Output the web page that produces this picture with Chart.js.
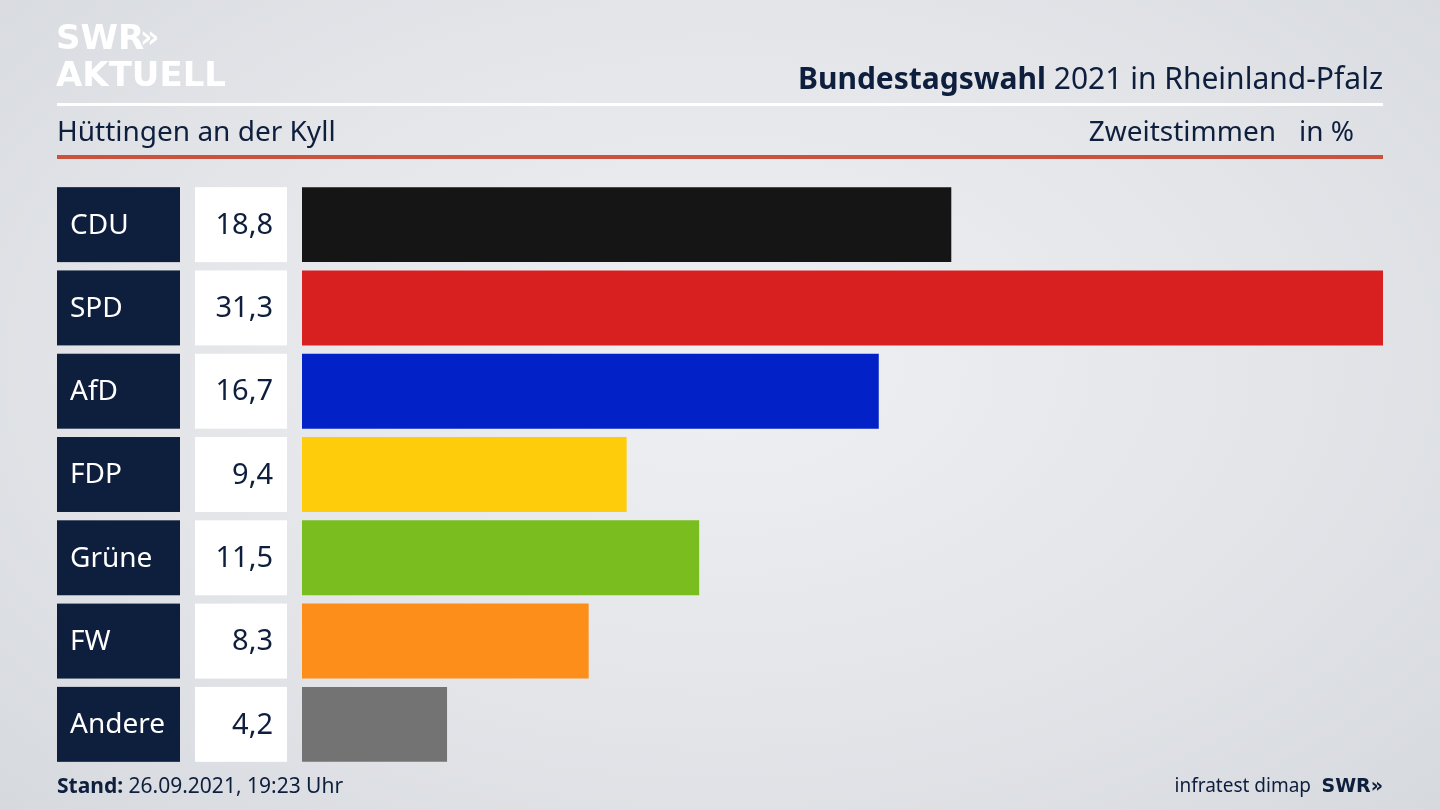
<!DOCTYPE html>
<html><head><meta charset="utf-8">
<script src="https://cdn.jsdelivr.net/npm/chart.js@4"></script>
<style>
html,body{margin:0;padding:0;width:1440px;height:810px;overflow:hidden;
background:radial-gradient(ellipse at 50% 45%,#eff0f3 0%,#e2e4e8 60%,#d6d9de 100%);font-family:"Noto Sans",sans-serif;}
#c{position:absolute;left:0;top:0}
</style></head><body>
<canvas id="c" width="1440" height="810"></canvas>
<script>
const parties=["CDU","SPD","AfD","FDP","Grüne","FW","Andere"];
const values=[18.8,31.3,16.7,9.4,11.5,8.3,4.2];
const colors=["#151515","#d82020","#0222c8","#fecc0a","#79be1e","#fc8e19","#737373"];
const title="Bundestagswahl";
const titleRest=" 2021 in Rheinland-Pfalz";
const place="Hüttingen an der Kyll";
const stand="26.09.2021, 19:23 Uhr";
const fmt=v=>v.toFixed(1).replace('.',',');
const deco={id:'deco',beforeDraw(ch){
 const c=ch.ctx;c.save();
 c.fillStyle="#fff";c.font="bold 34px 'DejaVu Sans'";c.textBaseline="alphabetic";
 c.fillText("SWR",56,49);c.fillText("AKTUELL",56,86);
 c.font="bold 30px 'DejaVu Sans'";c.fillText("»",140,47);
 c.textAlign="right";c.fillStyle="#0e1e3d";
 c.font="30px 'Noto Sans'";const w=c.measureText(titleRest).width;
 c.fillText(titleRest,1383,89);
 c.font="bold 30px 'Noto Sans'";c.fillText(title,1383-w,89);
 c.fillStyle="#fff";c.fillRect(57,103,1326,3);
 c.fillStyle="#0e1e3d";c.font="28px 'Noto Sans'";c.textAlign="left";
 c.fillText(place,57,141);
 c.textAlign="right";c.fillText("in %",1354,141);c.fillText("Zweitstimmen",1276,141);
 c.fillStyle="#c9533e";c.fillRect(57,155,1326,4);
 c.fillStyle="#0e1e3d";
 c.textAlign="left";c.font="bold 21px 'Noto Sans'";c.fillText("Stand:",57,793);
 const sw=c.measureText("Stand: ").width;c.font="21px 'Noto Sans'";c.fillText(stand,57+sw,793);
 c.textAlign="right";c.font="bold 19px 'DejaVu Sans'";c.fillText("SWR»",1383,792);
 c.font="19px 'Noto Sans'";c.fillText("infratest dimap",1311,792);
 c.restore();},
 afterDatasetsDraw(ch){
 const c=ch.ctx,meta=ch.getDatasetMeta(0);c.save();
 meta.data.forEach((b,i)=>{const h=b.height,t=b.y-h/2;
  c.fillStyle="#0e1e3d";c.fillRect(57,t,123,h);
  c.fillStyle="#fff";c.fillRect(195,t,92,h);
  c.textBaseline="middle";c.font="28px 'Noto Sans'";
  c.fillStyle="#fff";c.textAlign="left";c.fillText(parties[i],70,b.y+1);
  c.fillStyle="#0e1e3d";c.textAlign="right";c.font="29px 'Noto Sans'";c.fillText(fmt(values[i]),273,b.y+1);
 });c.restore();}};
new Chart(document.getElementById('c'),{type:'bar',
 data:{labels:parties,datasets:[{data:values,backgroundColor:colors,categoryPercentage:0.9,barPercentage:1}]},
 options:{indexAxis:'y',responsive:false,animation:false,
  layout:{padding:{left:302,right:57,top:183,bottom:44}},
  scales:{x:{display:false,min:0,max:31.3},y:{display:false}},
  plugins:{legend:{display:false},tooltip:{enabled:false}}},
 plugins:[deco]});
</script></body></html>
